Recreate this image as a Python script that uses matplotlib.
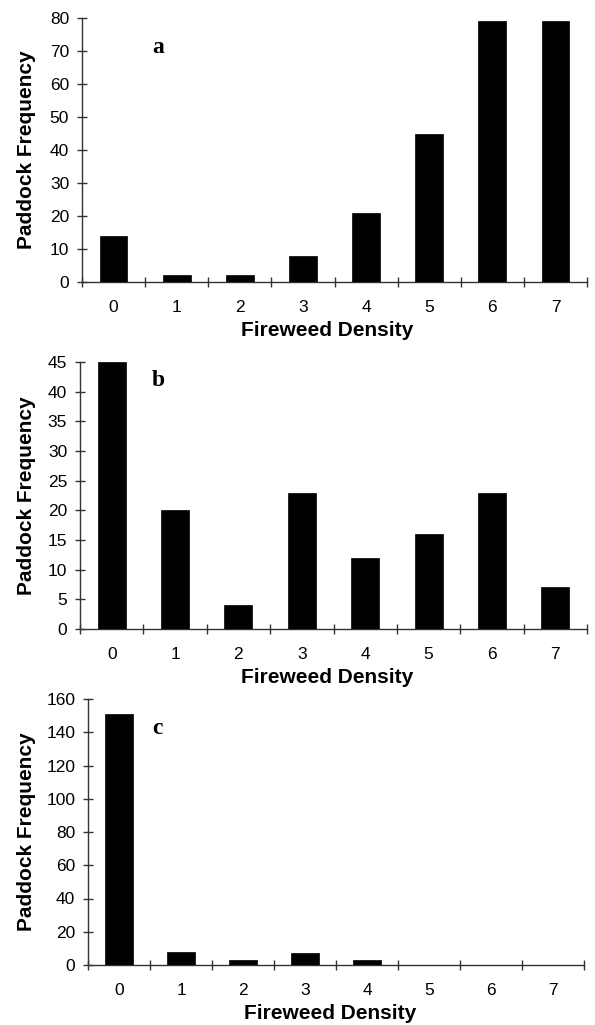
import matplotlib
matplotlib.use("Agg")
import matplotlib.pyplot as plt
import numpy as np

categories = [0, 1, 2, 3, 4, 5, 6, 7]
freq_a = [14, 2, 2, 8, 21, 45, 79, 79]
freq_b = [45, 20, 4, 23, 12, 16, 23, 7]
freq_c = [151, 8, 3, 7, 3, 0, 0, 0]
panel_labels = ["a", "b", "c"]
y_max = [80, 45, 160]
y_step = [10, 5, 20]

plt.rcParams['font.family'] = ['Liberation Sans', 'DejaVu Sans']

W, H = 595, 1025
fig = plt.figure(figsize=(W / 100, H / 100), dpi=100)
# axes boxes in pixels: left, right, top(ymax), bottom(y=0)
boxes = [(82, 587, 18, 282), (80, 587, 362, 629), (88, 584, 699, 965)]
xlabel_cx = [327, 327, 330]
label_pos = [(158, 47.5), (158, 381), (157, 728)]
series = [freq_a, freq_b, freq_c]
axcol = '#333333'

for i, vals in enumerate(series):
    l, r, t, b = boxes[i]
    ax = fig.add_axes([l / W, 1 - b / H, (r - l) / W, (b - t) / H])
    x = np.array(categories)
    ax.bar(x, vals, width=0.44, color='black', edgecolor='black', linewidth=0.5, zorder=3)
    ax.set_xlim(-0.5, 7.5)
    ax.set_ylim(0, y_max[i])
    ax.spines['top'].set_visible(False)
    ax.spines['right'].set_visible(False)
    for s in ['left', 'bottom']:
        ax.spines[s].set_color(axcol)
        ax.spines[s].set_linewidth(1.0)
    ax.set_yticks(np.arange(0, y_max[i] + 1, y_step[i]))
    ax.tick_params(axis='y', direction='inout', length=6.5, width=1.0, color=axcol,
                   labelsize=12.5, pad=6)
    ax.set_xticks(np.arange(-0.5, 8, 1.0))
    ax.set_xticklabels([])
    ax.tick_params(axis='x', which='major', direction='inout', length=6.5, width=1.0, color=axcol)
    ax.set_xticks(x, minor=True)
    ax.set_xticklabels([str(c) for c in categories], minor=True)
    ax.tick_params(axis='x', which='minor', length=0, labelsize=12.5, pad=13)
    ax.set_xlabel('Fireweed Density', fontsize=15, fontweight='bold')
    ax.set_ylabel('Paddock Frequency', fontsize=15, fontweight='bold')
    ax.xaxis.set_label_coords((xlabel_cx[i] - l) / (r - l), -(321 - 282) / (b - t))
    ax.yaxis.set_label_coords((36 - l) / (r - l), 0.5)
    lx, ly = label_pos[i]
    fig.text(lx / W, 1 - ly / H, panel_labels[i], fontsize=17, fontweight='bold',
             family=['Liberation Serif', 'DejaVu Serif'], ha='center', va='center')

fig.savefig('out.png', dpi=100)
